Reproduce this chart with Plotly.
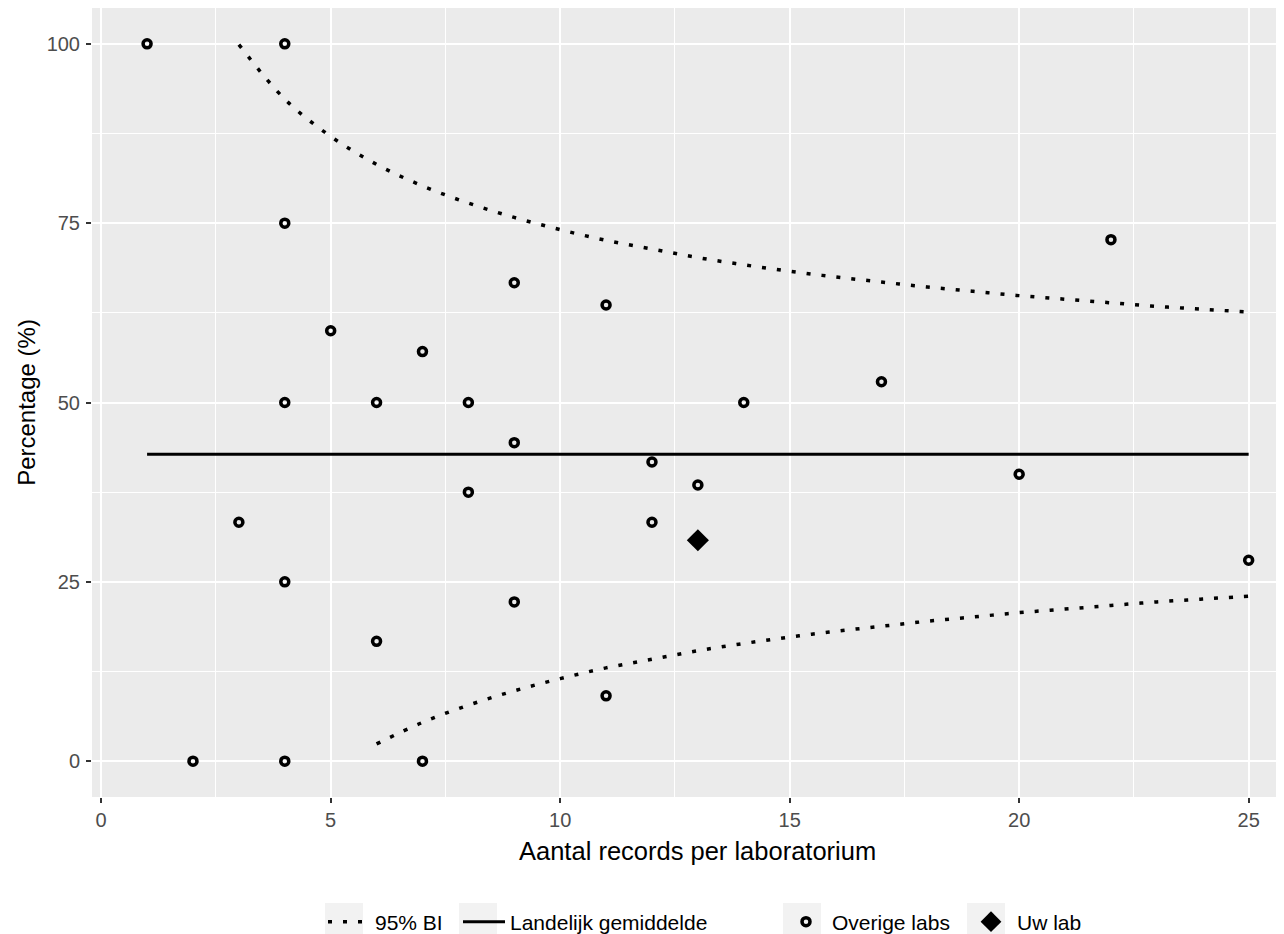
import plotly.graph_objects as go

# ---- data ----
other_x = [1, 2, 3, 4, 4, 4, 4, 4, 5, 6, 6, 7, 7, 8, 8, 9, 9, 9, 11, 11, 12, 12, 13, 14, 17, 20, 22, 25]
other_y = [100, 0, 33.3, 100, 75, 50, 25, 0, 60, 50, 16.7, 57.1, 0, 50, 37.5, 66.7, 44.4, 22.2,
           63.6, 9.1, 41.7, 33.3, 38.5, 50, 52.9, 40, 72.7, 28]

lab_x = [13]
lab_y = [30.8]

mean_x = [1, 25]
mean_y = [42.8, 42.8]

ci_upper_n = list(range(3, 26))
ci_upper = [99.9, 92.3, 87.1, 83.2, 80.2, 77.8, 75.8, 74.1, 72.6, 71.4, 70.2, 69.2, 68.3,
            67.5, 66.8, 66.1, 65.5, 64.9, 64.4, 63.9, 63.4, 63.0, 62.6]
ci_lower_n = list(range(6, 26))
ci_lower = [2.4, 5.4, 7.8, 9.8, 11.5, 13.0, 14.2, 15.4, 16.4, 17.3, 18.1, 18.8, 19.5,
            20.1, 20.7, 21.2, 21.7, 22.2, 22.6, 23.0]

x_ticks = [0, 5, 10, 15, 20, 25]
y_ticks = [0, 25, 50, 75, 100]

x_title = "Aantal records per laboratorium"
y_title = "Percentage (%)"

# ---- layout constants (page body has an 8px margin) ----
OFF = 8
W, H = 1284 - OFF, 934 - OFF
ML, MR, MT, MB = 84, 0, 0, 137
PW, PH = W - ML - MR, H - MT - MB
FONT = "Liberation Sans, Arial, sans-serif"


def px_x(p):
    """screen x pixel -> paper x"""
    return (p - OFF - ML) / PW


def px_y(p):
    """screen y pixel -> paper y"""
    return (H - MB - (p - OFF)) / PH


fig = go.Figure()

ci_x = ci_upper_n + [None] + ci_lower_n
ci_y = ci_upper + [None] + ci_lower
fig.add_trace(go.Scatter(
    x=ci_x, y=ci_y, mode="lines", name="95% BI",
    line=dict(color="black", width=3.5, dash="4px,11px", shape="spline"),
    legend="legend", connectgaps=False))

fig.add_trace(go.Scatter(
    x=mean_x, y=mean_y, mode="lines", name="Landelijk gemiddelde",
    line=dict(color="black", width=3), legend="legend2"))

fig.add_trace(go.Scatter(
    x=other_x, y=other_y, mode="markers", name="Overige labs",
    marker=dict(symbol="circle-open", size=8, color="black", line=dict(width=3.5, color="black")),
    legend="legend3"))

fig.add_trace(go.Scatter(
    x=lab_x, y=lab_y, mode="markers", name="Uw lab",
    marker=dict(symbol="diamond", size=17, color="black", line=dict(width=0)),
    legend="legend4"))

# legend key backgrounds (screen pixels)
key_boxes = [(325, 363), (459, 497), (783, 821), (967, 1005)]
for x0, x1 in key_boxes:
    fig.add_shape(type="rect", xref="paper", yref="paper",
                  x0=px_x(x0), x1=px_x(x1), y0=px_y(942), y1=px_y(903),
                  fillcolor="#F2F2F2", line=dict(width=0), layer="above")

# x axis title (centred on the full, uncropped panel)
fig.add_annotation(text=x_title, xref="paper", yref="paper",
                   x=px_x(697), y=px_y(851), xanchor="center", yanchor="middle",
                   showarrow=False, font=dict(family=FONT, size=25.5, color="black"))

axis_common = dict(
    showgrid=True, gridcolor="white", gridwidth=2,
    zeroline=False, showline=False,
    ticks="outside", ticklen=5, tickwidth=2, tickcolor="#333333",
    tickfont=dict(family=FONT, size=20, color="#4D4D4D"),
)


def legend_at(text_start):
    return dict(
        orientation="h", x=px_x(text_start - 53), xanchor="left",
        y=px_y(922), yanchor="middle",
        bgcolor="rgba(0,0,0,0)", borderwidth=0, itemwidth=42,
        font=dict(family=FONT, size=21, color="black"), itemclick=False)


fig.update_layout(
    width=W, height=H,
    margin=dict(l=ML, r=MR, t=MT, b=MB, autoexpand=False),
    paper_bgcolor="white", plot_bgcolor="#EBEBEB",
    font=dict(family=FONT, color="black"),
    xaxis=dict(
        range=[-0.2, 25.77], tickvals=x_ticks, ticktext=[str(v) for v in x_ticks],
        minor=dict(tickvals=[2.5, 7.5, 12.5, 17.5, 22.5], showgrid=True, gridcolor="white",
                   gridwidth=1, ticks=""),
        **axis_common),
    yaxis=dict(
        range=[-5, 105], tickvals=y_ticks, ticktext=[str(v) for v in y_ticks],
        minor=dict(tickvals=[12.5, 37.5, 62.5, 87.5], showgrid=True, gridcolor="white",
                   gridwidth=1, ticks=""),
        title=dict(text=y_title, font=dict(family=FONT, size=24, color="black"),
                   standoff=4),
        ticklabelstandoff=2,
        **axis_common),
    legend=legend_at(376),
    legend2=legend_at(511),
    legend3=legend_at(833),
    legend4=legend_at(1018),
    showlegend=True,
)

fig.write_html("out.html")
